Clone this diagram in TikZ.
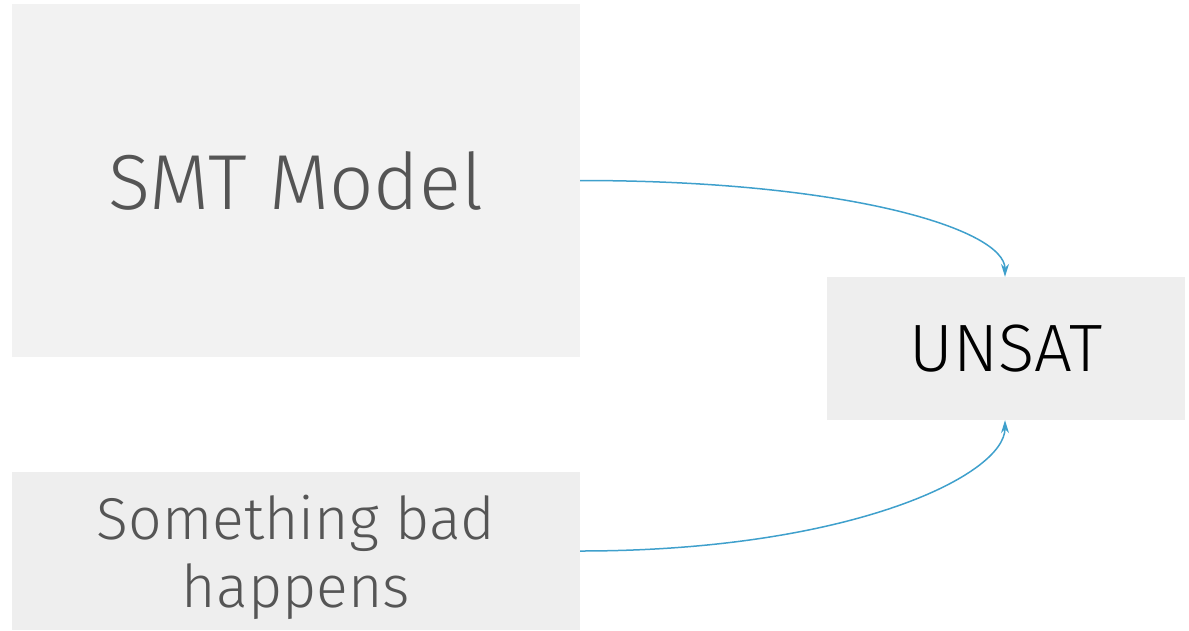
\documentclass[tikz,border=0pt]{standalone}
\usepackage{fontspec}
\setmainfont{Fira Sans Light}
\usetikzlibrary{arrows.meta}
\definecolor{boxa}{HTML}{F2F2F2}
\definecolor{boxb}{HTML}{EEEEEE}
\definecolor{txt}{HTML}{555555}
\definecolor{arr}{HTML}{3FA0CC}
\begin{document}
\begin{tikzpicture}[x=1pt,y=-1pt,
  box/.style={draw=none,inner sep=0pt,align=center,anchor=center},
  link/.style={draw=arr,line width=1.5pt,-{Stealth[length=13pt,width=8pt]}}]
\useasboundingbox (0,0) rectangle (1189,630);
\node[box,fill=boxa,minimum width=568pt,minimum height=353pt,text=txt,
  font=\fontsize{78}{84}\selectfont] (smt) at (296,180.5) {SMT Model};
\node[box,fill=boxb,minimum width=568pt,minimum height=158pt] (bad) at (296,551) {};
\node[box,text=txt,font=\fontsize{59}{68}\selectfont] (badtext) at (296,557) {Something bad\\happens};
\node[box,fill=boxb,minimum width=358pt,minimum height=143pt,text=black,
  font=\fontsize{67}{72}\selectfont] (unsat) at (1006,348.5) {UNSAT};
\draw[link] (smt.east) .. controls +(270,0) and +(0,-47) .. ([xshift=-1pt]unsat.north);
\draw[link] (bad.east) .. controls +(270,0) and +(0,55) .. ([xshift=-1pt]unsat.south);
\end{tikzpicture}
\end{document}
